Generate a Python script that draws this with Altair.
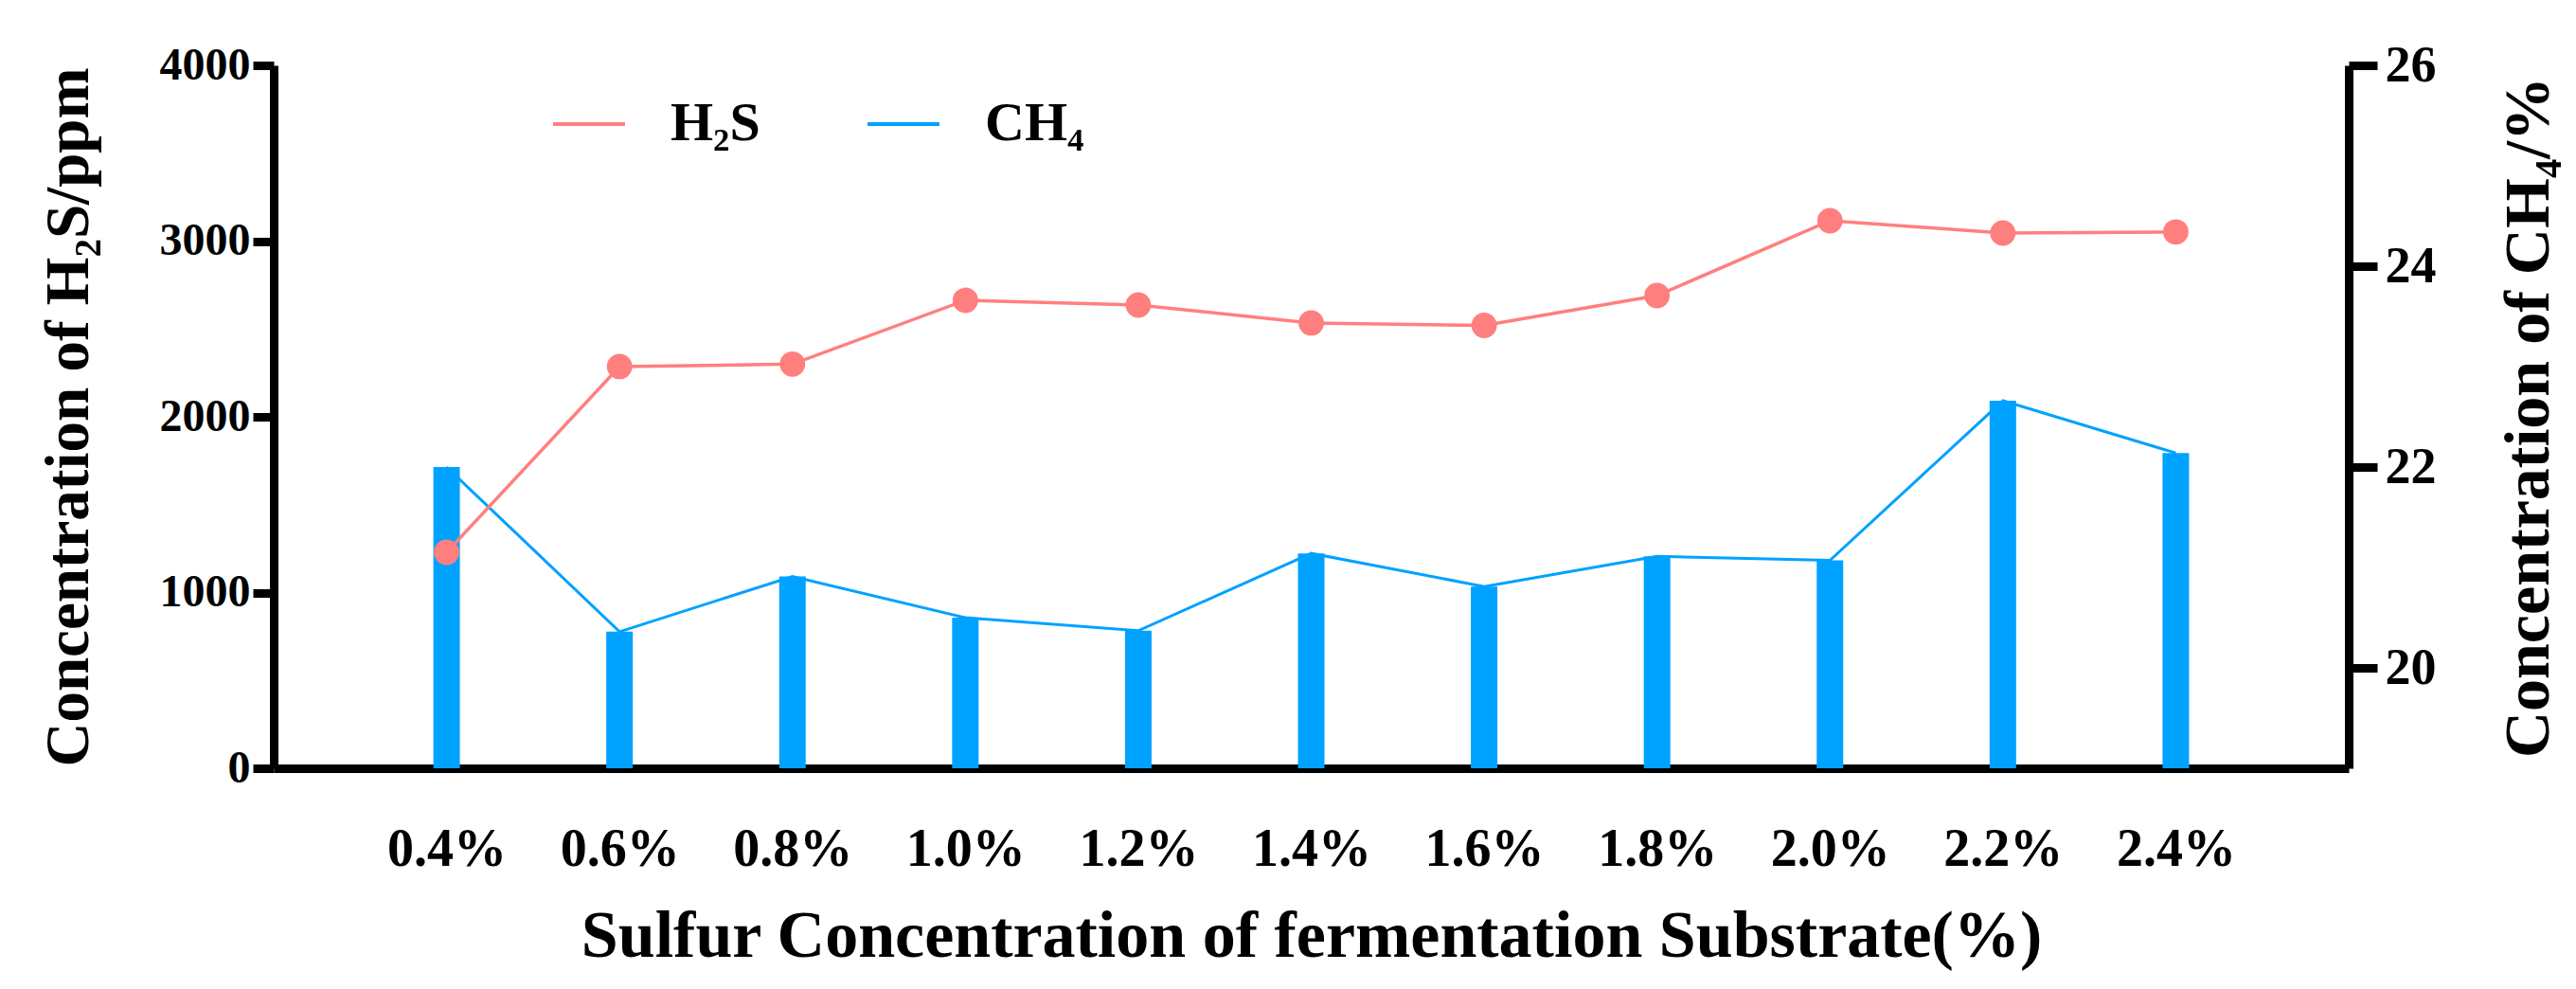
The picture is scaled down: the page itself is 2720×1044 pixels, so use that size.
import altair as alt
import pandas as pd

conc = ["0.4%", "0.6%", "0.8%", "1.0%", "1.2%", "1.4%", "1.6%", "1.8%", "2.0%", "2.2%", "2.4%"]
h2s = [1229, 2286, 2300, 2663, 2636, 2534, 2520, 2690, 3116, 3046, 3052]
ch4 = [22.00, 20.36, 20.91, 20.50, 20.37, 21.14, 20.81, 21.11, 21.07, 22.66, 22.14]
series = ["H₂S", "CH₄"]
left_ticks = [0, 1000, 2000, 3000, 4000]
right_ticks = [20, 22, 24, 26]

FONT = "Liberation Serif"
PINK = "#FF7F7F"
BLUE = "#00A2FF"

df_h = pd.DataFrame({"conc": conc, "val": h2s, "series": series[0]})
df_c = pd.DataFrame({"conc": conc, "val": ch4, "series": series[1]})

x = alt.X(
    "conc:N", sort=conc, scale=alt.Scale(type="point", padding=1),
    axis=alt.Axis(title="Sulfur Concentration of fermentation Substrate(%)", labelAngle=0,
                  ticks=False, labelPadding=58, titlePadding=30, domainWidth=9,
                  labelFontSize=56, titleFontSize=70, grid=False),
)

color = alt.Color(
    "series:N", scale=alt.Scale(domain=series, range=[PINK, BLUE]),
    legend=alt.Legend(title=None, orient="none", legendX=293, legendY=22, direction="horizontal",
                      symbolType="stroke", symbolSize=5776, symbolStrokeWidth=4,
                      labelFont=FONT, labelFontSize=58, labelFontWeight="bold", labelColor="black",
                      labelOffset=46, columnPadding=105),
)

yl = alt.Y("val:Q", scale=alt.Scale(domain=[0, 4000]),
           axis=alt.Axis(title="Concentration of H₂S/ppm", orient="left", values=left_ticks, format="d",
                         tickSize=22, tickWidth=9, domainWidth=9, labelFontSize=48, titleFontSize=65,
                         labelPadding=3, titlePadding=62, grid=False))
yr = alt.Y("val:Q", scale=alt.Scale(domain=[19, 26], zero=False),
           axis=alt.Axis(title="Concentration of CH₄/%", orient="right", values=right_ticks, format="d",
                         tickSize=30, tickWidth=9, domainWidth=9, labelFontSize=54, titleFontSize=68,
                         labelPadding=8, titlePadding=64, titleAngle=270, titleBaseline="top", grid=False))

base_c = alt.Chart(df_c)
c_bar = base_c.mark_bar(size=28, color=BLUE).encode(x=x, y=yr, y2=alt.datum(19))
c_line = base_c.mark_line(strokeWidth=3).encode(x=x, y=yr, color=color)
right = alt.layer(c_bar, c_line)

base_h = alt.Chart(df_h)
h_line = base_h.mark_line(strokeWidth=3.5).encode(x=x, y=yl, color=color)
h_pts = base_h.mark_point(filled=True, size=720, opacity=1).encode(x=x, y=yl, color=alt.value(PINK))
left = alt.layer(h_line, h_pts)

chart = alt.layer(right, left).resolve_scale(y="independent").properties(
    width=2191, height=742,
    autosize=alt.AutoSizeParams(type="none"),
    padding={"left": 281, "top": 61, "right": 232, "bottom": 225},
).configure_view(stroke=None).configure_axis(
    labelFont=FONT, titleFont=FONT, labelFontWeight="bold", titleFontWeight="bold",
    labelColor="black", titleColor="black", domainColor="black", tickColor="black",
)

chart.save("out.html", embed_options={"renderer": "svg", "actions": False})
